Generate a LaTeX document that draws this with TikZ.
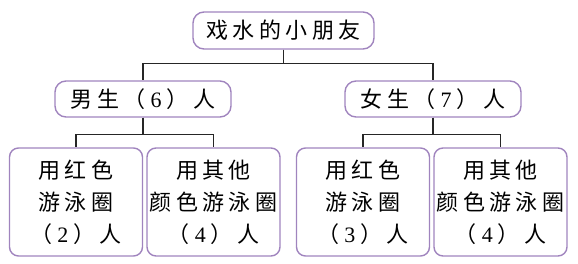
\documentclass[tikz,border=0pt]{standalone}
\usepackage{fontspec}
\newfontfamily\cjk[LetterSpace=20]{Noto Sans CJK SC}
\newfontfamily\numf{Liberation Serif}
\definecolor{boxpurple}{RGB}{160,132,190}
\newcommand\dg[1]{\hspace{5pt}{\numf #1}\hspace{5pt}}
\begin{document}
\begin{tikzpicture}[x=1pt,y=-1pt,
  box/.style={draw=boxpurple, line width=1.4pt, rounded corners=11pt, inner sep=0pt,
    font=\fontsize{22}{32}\selectfont\cjk, align=center, text=black},
  leaf/.style={box, rounded corners=9pt, minimum width=133pt, minimum height=108pt},
  mid/.style={box, minimum width=176pt, minimum height=36pt},
  link/.style={draw=black!85, line width=1.1pt}]
\useasboundingbox (0,0) rectangle (578,264);
\node[box, minimum width=181pt, minimum height=37pt] (top) at (283.5,30.5) {戏水的小朋友};
\node[mid] (boy) at (143,99) {男生（\dg{6}）人};
\node[mid] (girl) at (433,99) {女生（\dg{7}）人};
\node[leaf] (b1) at (76,202) {用红色\\游泳圈\\（\dg{2}）人};
\node[leaf] (b2) at (213.5,202) {用其他\\颜色游泳圈\\（\dg{4}）人};
\node[leaf] (g1) at (363,202) {用红色\\游泳圈\\（\dg{3}）人};
\node[leaf] (g2) at (500.5,202) {用其他\\颜色游泳圈\\（\dg{4}）人};
\draw[link] (top.south) -- ++(0,14) -| (boy.north);
\draw[link] (top.south) -- ++(0,14) -| (girl.north);
\draw[link] (boy.south) -- ++(0,17) -| (b1.north);
\draw[link] (boy.south) -- ++(0,17) -| (b2.north);
\draw[link] (girl.south) -- ++(0,17) -| (g1.north);
\draw[link] (girl.south) -- ++(0,17) -| (g2.north);
\end{tikzpicture}
\end{document}
